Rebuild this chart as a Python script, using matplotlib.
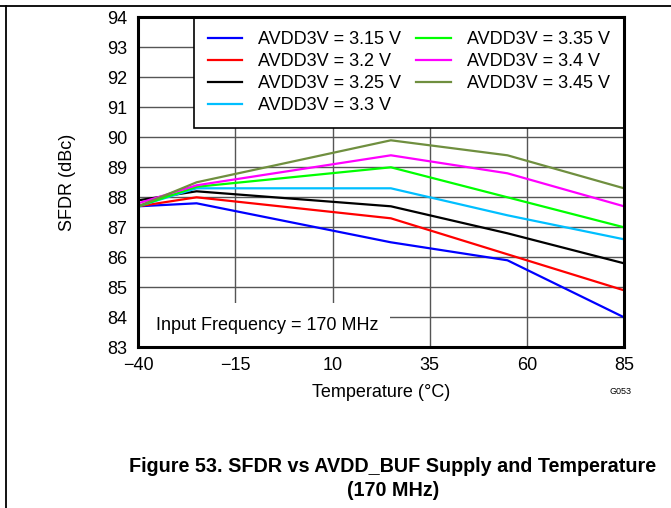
import matplotlib
matplotlib.use("Agg")
import matplotlib.pyplot as plt
from matplotlib.patches import Rectangle
from matplotlib.lines import Line2D

plt.rcParams['font.family'] = ['Liberation Sans', 'DejaVu Sans']

temperature = [-40, -25, 25, 55, 85]
labels = ["AVDD3V = 3.15 V", "AVDD3V = 3.2 V", "AVDD3V = 3.25 V", "AVDD3V = 3.3 V",
          "AVDD3V = 3.35 V", "AVDD3V = 3.4 V", "AVDD3V = 3.45 V"]
sfdr_315 = [87.7, 87.8, 86.5, 85.9, 84.0]
sfdr_320 = [87.7, 88.0, 87.3, 86.1, 84.9]
sfdr_325 = [87.9, 88.2, 87.7, 86.8, 85.8]
sfdr_330 = [87.7, 88.3, 88.3, 87.4, 86.6]
sfdr_335 = [87.7, 88.35, 89.0, 88.0, 87.0]
sfdr_340 = [87.8, 88.4, 89.4, 88.8, 87.7]
sfdr_345 = [87.7, 88.5, 89.9, 89.4, 88.3]
series = [sfdr_315, sfdr_320, sfdr_325, sfdr_330, sfdr_335, sfdr_340, sfdr_345]
colors = ["#0000FF", "#FF0000", "#000000", "#00BFFF", "#00FF00", "#FF00FF", "#6F8F3F"]
xticks = [-40, -15, 10, 35, 60, 85]
yticks = list(range(83, 95))

FS = 13

fig = plt.figure(figsize=(6.71, 5.08), dpi=100)
ax = fig.add_axes([138.3 / 671, 1 - 347.3 / 508, (624 - 138.3) / 671, (347.3 - 17.3) / 508])

ax.set_xlim(-40, 85)
ax.set_ylim(83, 94)
ax.set_xticks(xticks)
ax.set_yticks(yticks)
ax.tick_params(axis="y", length=0, labelsize=FS, pad=8)
ax.tick_params(axis="x", length=0, labelsize=FS, pad=7)
ax.grid(True, color="#555555", linewidth=1.0, zorder=1)
ax.set_axisbelow(True)
for s in ax.spines.values():
    s.set_linewidth(2.2)
    s.set_zorder(10)

# white box behind annotation text
ax.add_patch(Rectangle((0, 0), 0.518, 0.135, transform=ax.transAxes,
                       facecolor="white", edgecolor="none", zorder=1.5))

for ys, c, lab in zip(series, colors, labels):
    ax.plot(temperature, ys, color=c, linewidth=1.6, label=lab, zorder=3)

ax.text(0.036, 0.065, "Input Frequency = 170 MHz", transform=ax.transAxes,
        fontsize=FS, va="center", ha="left", zorder=4)

leg = ax.legend(ncol=2, loc="upper right", bbox_to_anchor=(1.0, 1.0), borderaxespad=0,
                fontsize=FS, frameon=True, fancybox=False, framealpha=1,
                edgecolor="black", handlelength=1.9, handletextpad=0.9,
                columnspacing=0.83, labelspacing=0.27, borderpad=0.78)
leg.get_frame().set_linewidth(1.2)
leg.set_zorder(6)

ax.set_xlabel("Temperature (°C)", fontsize=FS)
ax.set_ylabel("SFDR (dBc)", fontsize=FS)
ax.xaxis.set_label_coords(0.5, -0.110)
ax.yaxis.set_label_coords(-0.128, 0.5)

fig.text(620 / 671, 1 - 392 / 508, "G053", fontsize=6.5, ha="center", va="center")
fig.text(393 / 671, 1 - 467 / 508, "Figure 53. SFDR vs AVDD_BUF Supply and Temperature",
         fontsize=14.2, fontweight="bold", ha="center", va="center")
fig.text(393 / 671, 1 - 490 / 508, "(170 MHz)",
         fontsize=14.2, fontweight="bold", ha="center", va="center")

# page border lines (top and left)
fig.add_artist(Line2D([0, 1], [1 - 5.5 / 508, 1 - 5.5 / 508], transform=fig.transFigure,
                      color="black", linewidth=1.3))
fig.add_artist(Line2D([6 / 671, 6 / 671], [0, 1 - 5.5 / 508], transform=fig.transFigure,
                      color="black", linewidth=1.3))

fig.savefig("out.png", dpi=100)
